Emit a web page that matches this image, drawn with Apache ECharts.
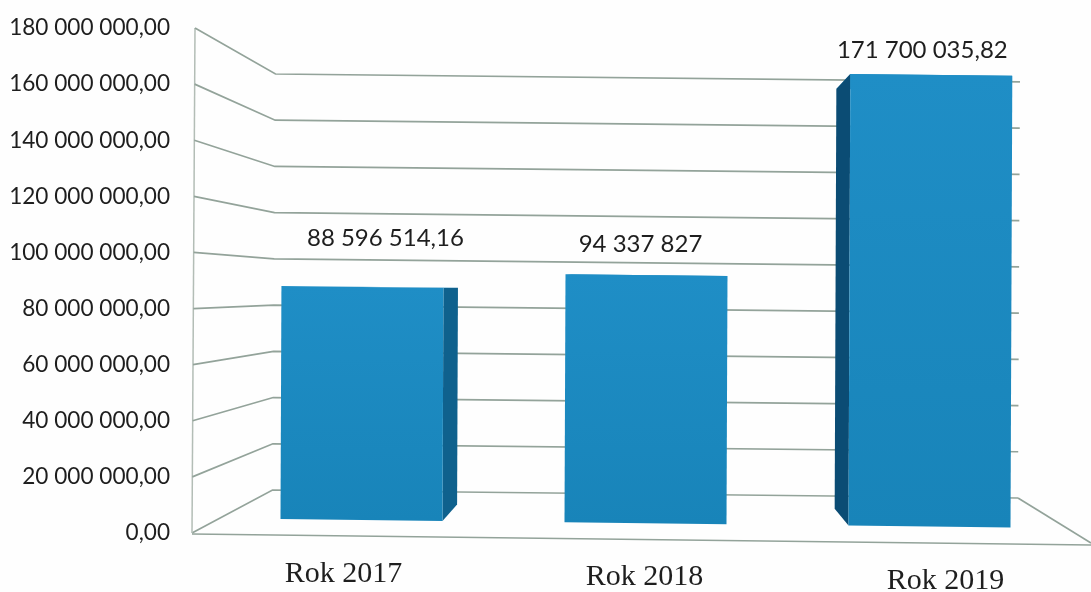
<!DOCTYPE html>
<html>
<head>
<meta charset="utf-8">
<style>html,body{margin:0;padding:0;background:#fefefe}#c{width:1091px;height:592px}</style>
<script src="https://cdn.jsdelivr.net/npm/echarts@6/dist/echarts.min.js"></script>
</head>
<body>
<div id="c"></div>
<script>
var categories = ['Rok 2017', 'Rok 2018', 'Rok 2019'];
var values = [88596514.16, 94337827, 171700035.82];
var valueLabels = ['88 596 514,16', '94 337 827', '171 700 035,82'];
var axisTicks = [0, 20000000, 40000000, 60000000, 80000000, 100000000, 120000000, 140000000, 160000000, 180000000];
var axisMax = 180000000;

// Layout of the scanned pseudo-3D scene
var labelShift = [[23, -49], [-6, -31], [-9, -25]];
var tilt = 0.0114, skew = 0.004, farScale = 0.93, vanishX = 650, horizonY = 284, baseX = 361.5, baseY = 520;
var lineColor = '#93a39a';

function formatTick(v) {
  var s = String(v).replace(/\B(?=(\d{3})+$)/g, ' ');
  return s + ',00';
}
function place(x, y) {
  return [x + skew * (baseY - y), y + tilt * (x - baseX)];
}

function renderWall(params, api) {
  var y = api.coord([0, api.value(1)])[1];
  var frac = (533 - y) / 505;
  var yBack = 490 + (y - 533) * (416 / 505);
  var xLeft = 192 + 3 * frac, xBack = 272.5 + 3 * frac, xEnd = 1018 + 2 * frac;
  var yEnd = yBack + 0.0107 * (xEnd - xBack);
  var shape = { points: [[xLeft, y], [xBack, yBack], [xEnd, yEnd]] };
  var st = { fill: null, stroke: lineColor, lineWidth: 1.7 };
  var kids = [{ type: 'polyline', shape: shape, style: st }];
  if (api.value(1) === 0) {
    kids.push({ type: 'polyline', shape: { points: [[xEnd, yEnd], [1091, 543]] }, style: st });
    kids.push({ type: 'polyline', shape: { points: [[xLeft, y + 1], [1091, 545]] }, style: st });
    kids.push({ type: 'polyline', shape: { points: [[192, 533], [195, 28]] }, style: { fill: null, stroke: '#b3bdb6', lineWidth: 1.5 } });
  }
  return { type: 'group', children: kids };
}

function renderBar(params, api) {
  var i = api.value(0), v = api.value(1);
  var c = api.coord([i, v]), c0 = api.coord([i, 0]);
  var w = api.size([1, 0])[0] * (162 / 284);
  var x0 = c[0] - w / 2, x1 = c[0] + w / 2, yT = c[1], yB = c0[1];
  function far(x, y) { return place(vanishX + (x - vanishX) * farScale, horizonY + (y - horizonY) * farScale); }
  var kids = [];
  var front = [place(x0, yT), place(x1, yT), place(x1, yB), place(x0, yB)];
  kids.push({ type: 'polygon', shape: { points: [place(x0, yT), place(x1, yT), far(x1, yT), far(x0, yT)] }, style: { fill: '#2c8fc0' } });
  if (x1 < vanishX) {
    kids.push({ type: 'polygon', shape: { points: [place(x1, yT), far(x1, yT), far(x1, yB), place(x1, yB)] }, style: { fill: '#0f618d' } });
  }
  if (x0 > vanishX) {
    kids.push({ type: 'polygon', shape: { points: [place(x0, yT), far(x0, yT), far(x0, yB), place(x0, yB)] }, style: { fill: '#0b4c74' } });
  }
  kids.push({ type: 'polygon', shape: { points: front }, style: {
    fill: new echarts.graphic.LinearGradient(0, 0, 0, 1, [{ offset: 0, color: '#1f8ec6' }, { offset: 1, color: '#1884b9' }])
  } });
  var p = place(c[0], yT);
  kids.push({ type: 'text', style: {
    text: valueLabels[i], x: p[0] + labelShift[i][0], y: p[1] + labelShift[i][1],
    fontFamily: 'Lato', fontSize: 24, fill: '#1e1e1e', align: 'center', verticalAlign: 'middle'
  } });
  return { type: 'group', children: kids };
}

var chart = echarts.init(document.getElementById('c'), null, { renderer: 'canvas' });
chart.setOption({
  animation: false,
  backgroundColor: '#fefefe',
  grid: [
    { left: 193, width: 903, top: 28, height: 505, outerBoundsMode: 'none', containLabel: false },
    { left: 219.5, width: 852, top: 520 - 2.63 * 180, height: 2.63 * 180, outerBoundsMode: 'none', containLabel: false }
  ],
  xAxis: [
    {
      gridIndex: 0, type: 'category', data: categories,
      axisLine: { show: false }, axisTick: { show: false }, splitLine: { show: false },
      axisLabel: {
        margin: 26,
        interval: 0,
        formatter: function (val, idx) { return '{c' + idx + '|' + val + '}'; },
        rich: {
          c0: { fontFamily: 'Liberation Serif', fontSize: 30, color: '#1e1e1e', padding: [0, 0, 0, 0] },
          c1: { fontFamily: 'Liberation Serif', fontSize: 30, color: '#1e1e1e', padding: [3, 0, 0, 0] },
          c2: { fontFamily: 'Liberation Serif', fontSize: 30, color: '#1e1e1e', padding: [7, 0, 0, 0] }
        }
      }
    },
    { gridIndex: 1, type: 'category', data: categories, show: false }
  ],
  yAxis: [
    {
      gridIndex: 0, type: 'value', min: 0, max: axisMax, interval: 20000000,
      axisLine: { show: false }, axisTick: { show: false }, splitLine: { show: false },
      axisLabel: { margin: 23, fontFamily: 'Lato', fontSize: 22.6, color: '#1e1e1e', formatter: formatTick }
    },
    { gridIndex: 1, type: 'value', min: 0, max: axisMax, show: false, splitLine: { show: false } }
  ],
  series: [
    {
      type: 'custom', xAxisIndex: 0, yAxisIndex: 0, z: 1, silent: true,
      data: axisTicks.map(function (t) { return [0, t]; }),
      renderItem: renderWall
    },
    {
      type: 'custom', xAxisIndex: 1, yAxisIndex: 1, z: 2, silent: true,
      data: values.map(function (v, i) { return [i, v]; }),
      renderItem: renderBar
    }
  ]
});
</script>
</body>
</html>
